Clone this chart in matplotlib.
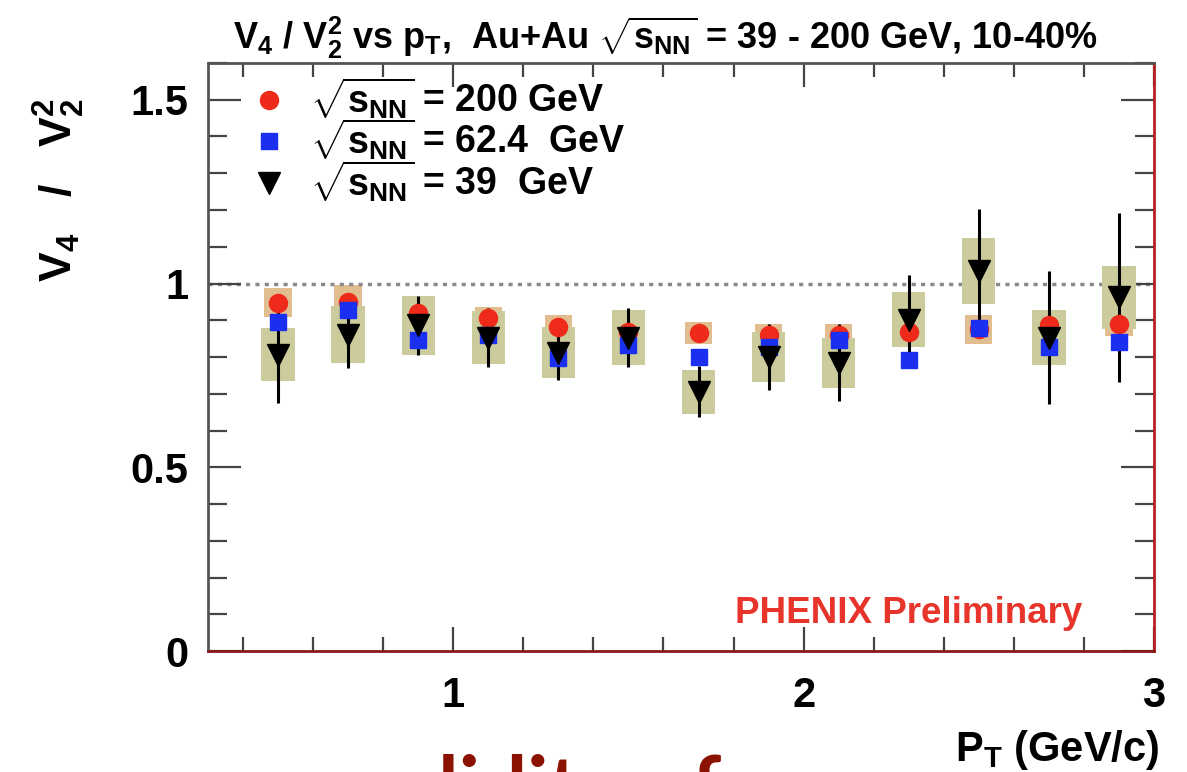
import numpy as np
import matplotlib
matplotlib.use("Agg")
import matplotlib.pyplot as plt
from matplotlib.ticker import MultipleLocator

plt.rcParams['font.family'] = ['Liberation Sans', 'DejaVu Sans']
plt.rcParams['font.weight'] = 'bold'
plt.rcParams['mathtext.fontset'] = 'custom'
plt.rcParams['mathtext.rm'] = 'Liberation Sans:bold'
plt.rcParams['mathtext.it'] = 'Liberation Sans:bold'
plt.rcParams['mathtext.bf'] = 'Liberation Sans:bold'
plt.rcParams['mathtext.sf'] = 'Liberation Sans:bold'
plt.rcParams['mathtext.default'] = 'regular'

# pT bin centres (GeV/c)
pt = np.array([0.5, 0.7, 0.9, 1.1, 1.3, 1.5, 1.7, 1.9, 2.1, 2.3, 2.5, 2.7, 2.9])

# v4 / v2^2 for the three beam energies
r200 = np.array([0.948, 0.950, 0.921, 0.905, 0.883, 0.869, 0.866, 0.861, 0.861, 0.869, 0.875, 0.888, 0.891])
r62 = np.array([0.894, 0.929, 0.845, 0.861, 0.798, 0.834, 0.800, 0.826, 0.847, 0.793, 0.880, 0.826, 0.842])
r39 = np.array([0.806, 0.861, 0.886, 0.853, 0.812, 0.853, 0.706, 0.800, 0.784, 0.902, 1.033, 0.853, 0.962])

# statistical errors (39 GeV) and systematic box half-heights
stat39 = np.array([0.13, 0.09, 0.08, 0.08, 0.075, 0.08, 0.07, 0.09, 0.105, 0.12, 0.17, 0.18, 0.23])
sys39 = np.array([0.072, 0.078, 0.08, 0.073, 0.07, 0.075, 0.06, 0.068, 0.068, 0.075, 0.09, 0.075, 0.086])
sys200 = np.array([0.04, 0.045, 0.035, 0.03, 0.03, 0.03, 0.03, 0.03, 0.03, 0.03, 0.04, 0.04, 0.035])

labels = [r'$\sqrt{s_{NN}}$ = 200 GeV', r'$\sqrt{s_{NN}}$ = 62.4  GeV', r'$\sqrt{s_{NN}}$ = 39  GeV']

fig = plt.figure(figsize=(11.87, 7.72), dpi=100)
ax = fig.add_axes([0.1752, 0.1567, 0.797, 0.7617])

# systematic boxes
ax.bar(pt, 2 * sys200, bottom=r200 - sys200, width=0.078, color='#e2bd90', zorder=1)
ax.bar(pt, 2 * sys39, bottom=r39 - sys39, width=0.095, color='#cbcb9c', zorder=2)

# reference line at 1
ax.axhline(1.0, color='#8a8a8a', lw=2.5, ls=(0, (1.2, 1.5)), zorder=1.5)

ax.errorbar(pt, r39, yerr=stat39, fmt='none', ecolor='black', elinewidth=2.2, capsize=0, zorder=3)

h1, = ax.plot(pt, r200, 'o', color='#ee2a1a', ms=13, ls='none', zorder=4)
h2, = ax.plot(pt, r62, 's', color='#1a2ff0', ms=12, ls='none', zorder=5)
h3, = ax.plot(pt, r39, 'v', color='black', ms=16, ls='none', zorder=6)

leg = ax.legend([h1, h2, h3], labels, loc='upper left', bbox_to_anchor=(0.029, 1.004),
                frameon=False, fontsize=27, handlelength=1.0, handletextpad=0.6,
                labelspacing=-0.12, borderaxespad=0.0)

ax.set_xlim(0.3, 3.0)
ax.set_ylim(0, 1.6)
ax.set_xticks([1, 2, 3])
ax.set_yticks([0, 0.5, 1, 1.5])
ax.set_yticklabels(['0', '0.5', '1', '1.5'])
ax.xaxis.set_minor_locator(MultipleLocator(0.2))
ax.yaxis.set_minor_locator(MultipleLocator(0.1))
ax.tick_params(which='both', direction='in', top=True, right=True, colors='#444444',
               labelcolor='black', labelsize=30)
ax.tick_params(axis='x', which='major', length=17, width=1.6, pad=18)
ax.tick_params(axis='x', which='minor', length=10, width=1.6)
ax.tick_params(axis='y', which='major', length=24, width=1.6, pad=14)
ax.tick_params(axis='y', which='minor', length=14, width=1.6)

for side, col in [('left', '#555555'), ('top', '#555555'), ('bottom', '#8a1a1a'), ('right', '#b52020')]:
    ax.spines[side].set_color(col)
    ax.spines[side].set_linewidth(2.0)

ax.text(0.924, 0.064, 'PHENIX Preliminary', transform=ax.transAxes, ha='right', va='center',
        color='#e8352c', fontsize=26.5, fontweight='bold')

fig.text(0.56, 0.951, r'V$_4$ / V$_2^2$ vs p$_T$,  Au+Au $\sqrt{s_{NN}}$ = 39 - 200 GeV, 10-40%',
         ha='center', va='center', fontsize=26)
fig.text(0.050, 0.872, r'V$_4$   /   V$_2^2$', rotation=90, ha='center', va='top', fontsize=32)
fig.text(0.977, 0.028, r'P$_T$ (GeV/c)', ha='right', va='center', fontsize=30)

# slide caption running below the frame
fig.text(0.112, -0.056, 'some validity of', ha='left', va='baseline',
         color='#8b1200', fontsize=60, fontweight='bold', family='Lato')

fig.savefig('out.png', dpi=100)
